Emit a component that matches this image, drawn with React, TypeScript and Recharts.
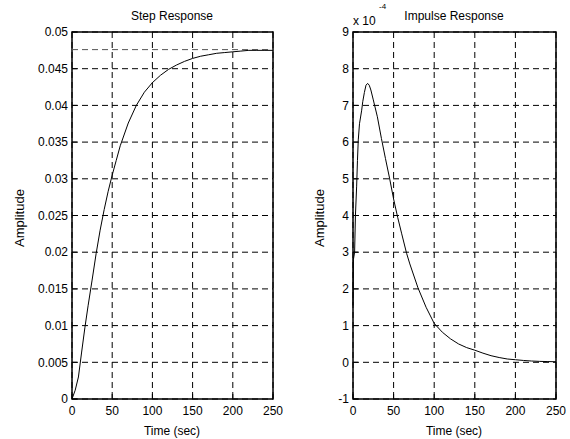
import React from 'react';
import { LineChart, Line, XAxis, YAxis, CartesianGrid, ReferenceLine, ReferenceArea } from 'recharts';

const stepTime = [0, 4, 8, 12, 16, 20, 25, 30, 35, 40, 45, 50, 55, 60, 70, 80, 90, 100, 110, 120, 130, 140, 150, 160, 170, 180, 190, 200, 210, 220, 230, 240, 250];
const stepAmplitude = [0, 0.0012, 0.003, 0.0064, 0.0097, 0.0127, 0.0162, 0.0198, 0.023, 0.0258, 0.0283, 0.0305, 0.0325, 0.0345, 0.0376, 0.04, 0.0418, 0.0431, 0.0441, 0.0449, 0.0455, 0.046, 0.0464, 0.0467, 0.0469, 0.0471, 0.0472, 0.0473, 0.0474, 0.0475, 0.0475, 0.0475, 0.0475];
const stepFinalValue = 0.0476;

const impulseTime = [0, 0.5, 2, 3, 4.5, 5.5, 6.5, 8, 10.7, 12, 14, 16, 18, 20, 22, 25, 30, 35, 40, 45, 50, 55, 60, 66, 70, 80, 90, 100, 110, 120, 130, 140, 150, 160, 170, 180, 190, 200, 210, 220, 230, 240, 250];
// amplitude in units of 1e-4
const impulseAmplitude = [1.55, 2.8, 3.0, 4.0, 4.8, 5.5, 6.06, 6.5, 6.87, 7.1, 7.35, 7.55, 7.6, 7.55, 7.42, 7.15, 6.69, 6.1, 5.55, 5.02, 4.45, 3.95, 3.5, 2.97, 2.68, 2.03, 1.5, 1.06, 0.82, 0.64, 0.5, 0.4, 0.33, 0.25, 0.18, 0.13, 0.09, 0.07, 0.05, 0.035, 0.025, 0.02, 0.015];

const timeTicks = [0, 50, 100, 150, 200, 250];
const stepTicks = [0, 0.005, 0.01, 0.015, 0.02, 0.025, 0.03, 0.035, 0.04, 0.045, 0.05];
const impulseTicks = [-1, 0, 1, 2, 3, 4, 5, 6, 7, 8, 9];

const stepData = stepTime.map((t, i) => ({ t, v: stepAmplitude[i] }));
const impulseData = impulseTime.map((t, i) => ({ t, v: impulseAmplitude[i] }));

const FONT = '"Liberation Sans", Arial, Helvetica, sans-serif';
const tickStyle = { fill: '#000', fontSize: 12, fontFamily: FONT };

export default function App() {
  return (
    <div style={{ position: 'absolute', left: 0, top: 0, width: 570, height: 439, background: '#fff', fontFamily: FONT }}>
      <div style={{ position: 'absolute', left: 0, top: 0 }}>
        <LineChart width={285} height={439} data={stepData} margin={{ top: 32, right: 12, bottom: 10, left: 0 }}>
          <CartesianGrid stroke="#000" strokeDasharray="6 4" horizontalValues={stepTicks} verticalValues={timeTicks} />
          <XAxis dataKey="t" type="number" domain={[0, 250]} ticks={timeTicks} interval={0} height={30}
            axisLine={false} tickLine={{ stroke: '#000' }} tickSize={-5} tickMargin={12} tick={tickStyle} />
          <YAxis type="number" domain={[0, 0.05]} ticks={stepTicks} interval={0} width={72}
            axisLine={false} tickLine={{ stroke: '#000' }} tickSize={-5} tickMargin={9} tick={tickStyle} />
          <ReferenceLine y={stepFinalValue} stroke="#555" strokeDasharray="6 4" />
          <ReferenceArea x1={0} x2={250} y1={0} y2={0.05} fill="none" fillOpacity={0} stroke="#000" strokeWidth={1.5} />
          <Line type="linear" dataKey="v" stroke="#000" strokeWidth={1} dot={false} isAnimationActive={false} />
        </LineChart>
      </div>
      <div style={{ position: 'absolute', left: 285, top: 0 }}>
        <LineChart width={285} height={439} data={impulseData} margin={{ top: 32, right: 14, bottom: 10, left: 0 }}>
          <CartesianGrid stroke="#000" strokeDasharray="6 4" horizontalValues={impulseTicks} verticalValues={timeTicks} />
          <XAxis dataKey="t" type="number" domain={[0, 250]} ticks={timeTicks} interval={0} height={30}
            axisLine={false} tickLine={{ stroke: '#000' }} tickSize={-5} tickMargin={12} tick={tickStyle} />
          <YAxis type="number" domain={[-1, 9]} ticks={impulseTicks} interval={0} width={68}
            axisLine={false} tickLine={{ stroke: '#000' }} tickSize={-5} tickMargin={9} tick={tickStyle} />
          <ReferenceArea x1={0} x2={250} y1={-1} y2={9} fill="none" fillOpacity={0} stroke="#000" strokeWidth={1.5} />
          <Line type="linear" dataKey="v" stroke="#000" strokeWidth={1} dot={false} isAnimationActive={false} />
        </LineChart>
      </div>
      <svg width={570} height={439} style={{ position: 'absolute', left: 0, top: 0, pointerEvents: 'none' }}>
        <g fontFamily={FONT} fill="#000">
          <text x={172} y={20} fontSize={12} textAnchor="middle">Step Response</text>
          <text x={454} y={20} fontSize={12} textAnchor="middle">Impulse Response</text>
          <text x={172} y={435} fontSize={12} textAnchor="middle">Time (sec)</text>
          <text x={454} y={435} fontSize={12} textAnchor="middle">Time (sec)</text>
          <text x={19} y={218} fontSize={13} textAnchor="middle" dy="0.35em" transform="rotate(-90 19 218)">Amplitude</text>
          <text x={319} y={218} fontSize={13} textAnchor="middle" dy="0.35em" transform="rotate(-90 319 218)">Amplitude</text>
          <text x={353} y={25} fontSize={12}>x 10</text>
          <text x={379} y={9} fontSize={8}>-4</text>
        </g>
      </svg>
    </div>
  );
}
